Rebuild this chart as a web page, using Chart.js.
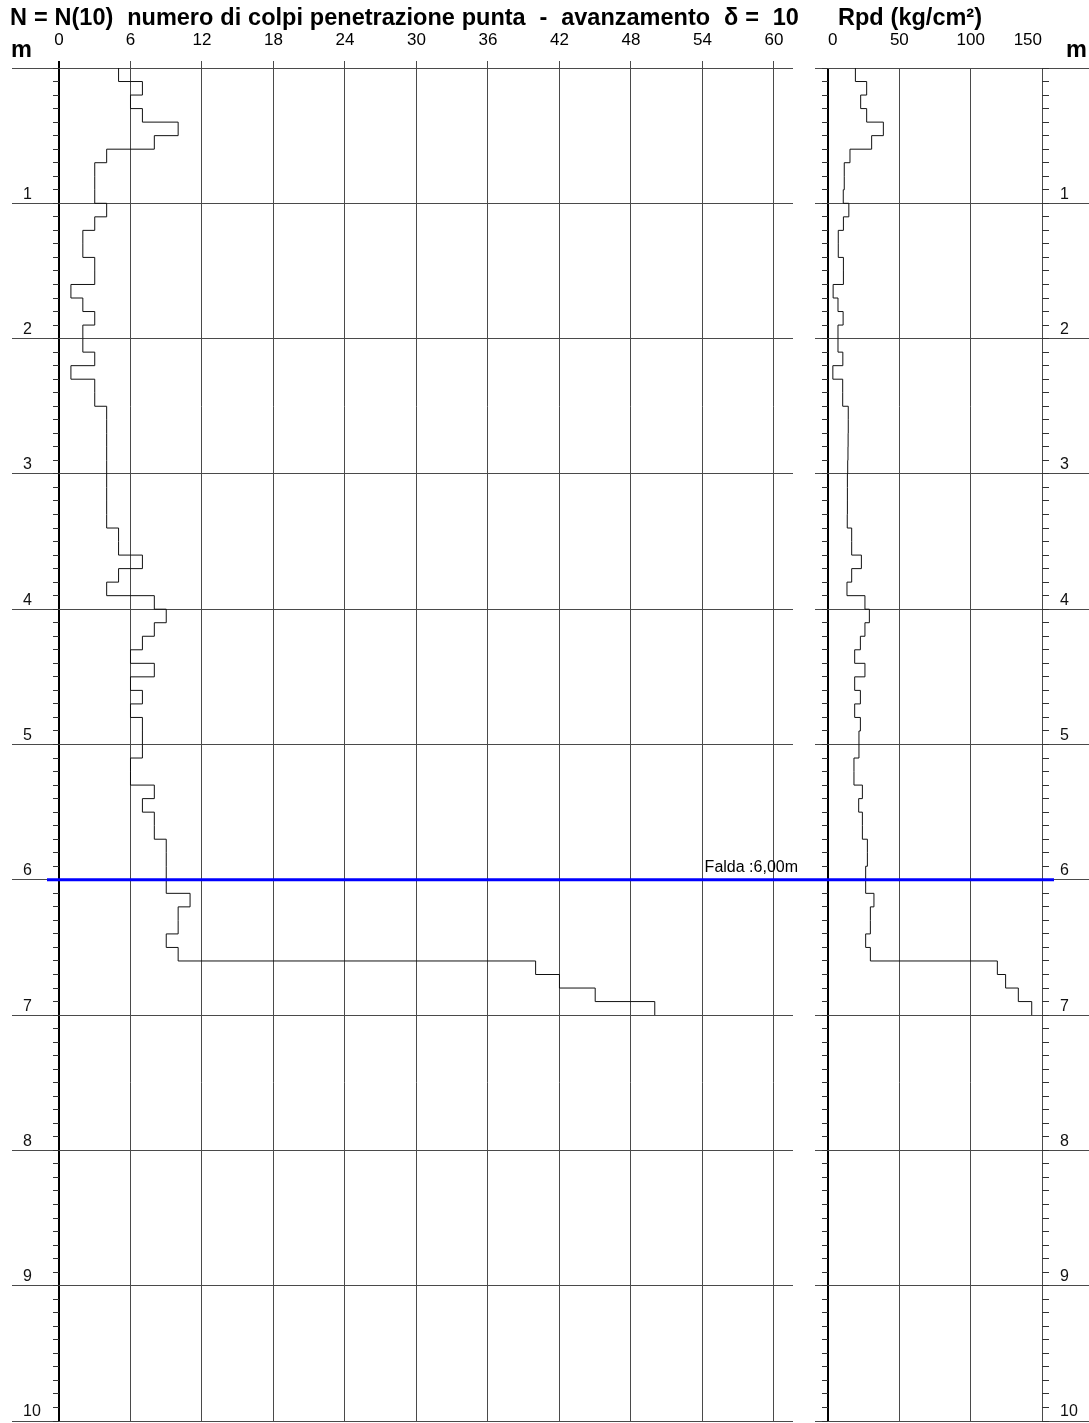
<!DOCTYPE html>
<html lang="it">
<head>
<meta charset="utf-8">
<title>Prova penetrometrica dinamica - N(10) e Rpd</title>
<script src="https://cdn.jsdelivr.net/npm/chart.js@4.4.1/dist/chart.umd.min.js"></script>
<style>
  html, body { margin: 0; padding: 0; background: #fff; }
  body {
    position: relative; width: 1089px; height: 1423px; overflow: hidden;
    font-family: 'Liberation Sans', Arial, sans-serif; color: #000;
  }
  canvas { position: absolute; top: 0; }
  #nChart   { left: 0; }
  #rpdChart { left: 800px; }
  .hd {
    position: absolute; font-weight: bold; font-size: 23.5px;
    line-height: 24px; white-space: pre; word-spacing: 0.4px;
  }
</style>
</head>
<body>
<canvas id="nChart" width="800" height="1423"></canvas>
<canvas id="rpdChart" width="289" height="1423"></canvas>

<div class="hd" style="left:10px;top:5px">N = N(10)  numero di colpi penetrazione punta  -  avanzamento  δ =  10</div>
<div class="hd" style="left:838px;top:5px">Rpd (kg/cm²)</div>
<div class="hd" style="left:11px;top:37px">m</div>
<div class="hd" style="left:1066px;top:37px">m</div>

<script>
'use strict';

/* ── dati prova (letture ogni 10 cm, da 0,00 a 7,00 m) ── */
const STEP_M  = 0.10;   // avanzamento δ = 10 cm
const FALDA_M = 6.00;   // profondità falda

// numero di colpi N(10) per tratto
const N_COLPI = [
   5,  7,  6,  7, 10,  8,  4,  3,  3,  3,
   4,  3,  2,  2,  3,  3,  1,  2,  3,  2,
   2,  3,  1,  3,  3,  4,  4,  4,  4,  4,
   4,  4,  4,  4,  5,  5,  7,  5,  4,  8,
   9,  8,  7,  6,  8,  6,  7,  6,  7,  7,
   7,  6,  6,  8,  7,  8,  8,  9,  9,  9,
   9, 11, 10, 10,  9, 10, 40, 42, 45, 50
];

// resistenza dinamica Rpd (kg/cm²) per tratto
const RPD = [
  19.2, 27.1, 22.9, 27.1, 38.8, 30.6, 15.4, 11.4, 11.4, 10.7,
  14.6, 10.8,  7.2,  7.2, 10.8, 10.8,  3.6,  7.0, 10.6,  7.0,
   7.0, 10.4,  3.4, 10.3, 10.3, 14.2, 14.2, 14.1, 14.0, 13.8,
  13.6, 13.6, 13.6, 13.5, 16.6, 16.6, 23.4, 16.6, 13.3, 25.9,
  29.0, 25.9, 22.7, 18.7, 25.9, 18.7, 22.7, 18.7, 22.7, 21.7,
  21.7, 18.2, 18.2, 24.1, 21.5, 24.1, 24.1, 27.6, 27.6, 26.4,
  26.4, 32.2, 29.7, 29.7, 26.4, 29.7, 118.7, 124.5, 133.4, 142.8
];

const DEPTH_TICKS = [0, 1, 2, 3, 4, 5, 6, 7, 8, 9, 10];
const N_TICKS     = [0, 6, 12, 18, 24, 30, 36, 42, 48, 54, 60];
const RPD_TICKS   = [0, 50, 100, 150];

/* ── stile ── */
const FONT      = "'Liberation Sans', Arial, sans-serif";
const GRID      = '#4a4a4a';
const TICK_FONT = { family: FONT, size: 17 };

Chart.defaults.font.family = FONT;
Chart.defaults.color       = '#000';

/* tacche minori ogni 10 cm sull'asse profondità */
const DEPTH_MAX   = DEPTH_TICKS[DEPTH_TICKS.length - 1];
const MINOR_TICKS = Array.from({ length: Math.round(DEPTH_MAX / STEP_M) + 1 },
                               (_, i) => +(i * STEP_M).toFixed(2));

/* profilo a gradini: inizio di ogni tratto + chiusura a fondo prova */
function profile(values) {
  const pts = values.map((v, i) => ({ x: v, y: +(i * STEP_M).toFixed(2) }));
  pts.push({ x: values[values.length - 1], y: +(values.length * STEP_M).toFixed(2) });
  return pts;
}

const setTicks = list => scale => { scale.ticks = list.map(value => ({ value })); };
const isZero   = ctx => ctx.tick && ctx.tick.value === 0;

/* ── assi ── */
function depthAxis(position, { major, width, tickLength, onArea = false, labels = false, pad = 0 }) {
  return {
    type: 'linear', axis: 'y', position, reverse: true,
    min: 0, max: DEPTH_MAX,
    weight: major ? 1 : 0,
    afterBuildTicks: setTicks(major ? DEPTH_TICKS : MINOR_TICKS),
    afterFit: s => { s.width = width; s.paddingTop = 0; s.paddingBottom = 0; },
    border: { display: false },
    grid: {
      color: major ? GRID : '#333',
      tickLength,
      drawOnChartArea: onArea,
    },
    ticks: {
      display: labels,
      autoSkip: false,
      font: { family: FONT, size: 16 },
      color: '#111',
      labelOffset: -9,
      padding: pad,
      crossAlign: position === 'left' ? 'far' : 'near',
      callback: v => (v === 0 ? '' : String(v)),
    },
  };
}

function valueAxis(max, ticks, tickLength, pad, align) {
  return {
    type: 'linear', position: 'top', min: 0, max,
    afterBuildTicks: setTicks(ticks),
    afterFit: s => { s.height = 68; s.paddingLeft = 0; s.paddingRight = 0; },
    border: { display: false },
    grid: {
      color:     ctx => (isZero(ctx) ? '#000' : GRID),
      lineWidth: ctx => (isZero(ctx) ? 2 : 1),
      drawTicks: tickLength > 0,
      tickLength,
    },
    ticks: { font: TICK_FONT, color: '#000', padding: pad, align, maxRotation: 0, autoSkip: false },
  };
}

/* ── linea di falda (attraversa entrambi i grafici) ── */
const faldaPlugin = {
  id: 'falda',
  afterDatasetsDraw(chart, args, opts) {
    const { ctx, chartArea, scales } = chart;
    const y = scales.y.getPixelForValue(FALDA_M);
    ctx.save();
    ctx.strokeStyle = '#0000ff';
    ctx.lineWidth   = 3;
    ctx.beginPath();
    ctx.moveTo(chartArea.left - opts.extendLeft, y);
    ctx.lineTo(chartArea.right + opts.extendRight, y);
    ctx.stroke();
    if (opts.label) {
      ctx.fillStyle    = '#000';
      ctx.font         = `16px ${FONT}`;
      ctx.textAlign    = 'right';
      ctx.textBaseline = 'alphabetic';
      ctx.fillText('Falda :' + FALDA_M.toFixed(2).replace('.', ',') + 'm', chartArea.right + 5, y - 8);
    }
    ctx.restore();
  }
};

function stepDataset(values) {
  return {
    data: profile(values),
    borderColor: '#111',
    borderWidth: 1,
    pointRadius: 0,
    stepped: 'after',
    fill: false,
    xAxisID: 'x',
    yAxisID: 'y',
  };
}

const baseOptions = {
  responsive: false,
  animation: false,
  events: [],
  plugins: { legend: { display: false }, tooltip: { enabled: false } },
};

/* grafico N(10) */
new Chart(document.getElementById('nChart'), {
  type: 'line',
  data: { datasets: [stepDataset(N_COLPI)] },
  plugins: [faldaPlugin],
  options: {
    ...baseOptions,
    layout: { padding: { left: 23, right: 7, top: 0, bottom: 2 } },
    plugins: { ...baseOptions.plugins, falda: { extendLeft: 12, extendRight: 7, label: true } },
    scales: {
      x:      valueAxis(61.6, N_TICKS, 7, 10, 'center'),
      y:      depthAxis('left', { major: true,  width: 30, tickLength: 41, onArea: true, labels: true }),
      yMinor: depthAxis('left', { major: false, width: 6,  tickLength: 6 }),
    },
  },
});

/* grafico Rpd */
new Chart(document.getElementById('rpdChart'), {
  type: 'line',
  data: { datasets: [stepDataset(RPD)] },
  plugins: [faldaPlugin],
  options: {
    ...baseOptions,
    layout: { padding: { left: 15, right: 0, top: 0, bottom: 2 } },
    plugins: { ...baseOptions.plugins, falda: { extendLeft: 28, extendRight: 12, label: false } },
    scales: {
      x:       valueAxis(150, RPD_TICKS, 0, 17, 'inner'),
      y:       depthAxis('left',  { major: true,  width: 7,  tickLength: 7, onArea: true }),
      yMinor:  depthAxis('left',  { major: false, width: 6,  tickLength: 6 }),
      yMinorR: depthAxis('right', { major: false, width: 7,  tickLength: 7 }),
      yR:      depthAxis('right', { major: true,  width: 40, tickLength: 40, labels: true, pad: -29 }),
    },
  },
});
</script>
</body>
</html>
